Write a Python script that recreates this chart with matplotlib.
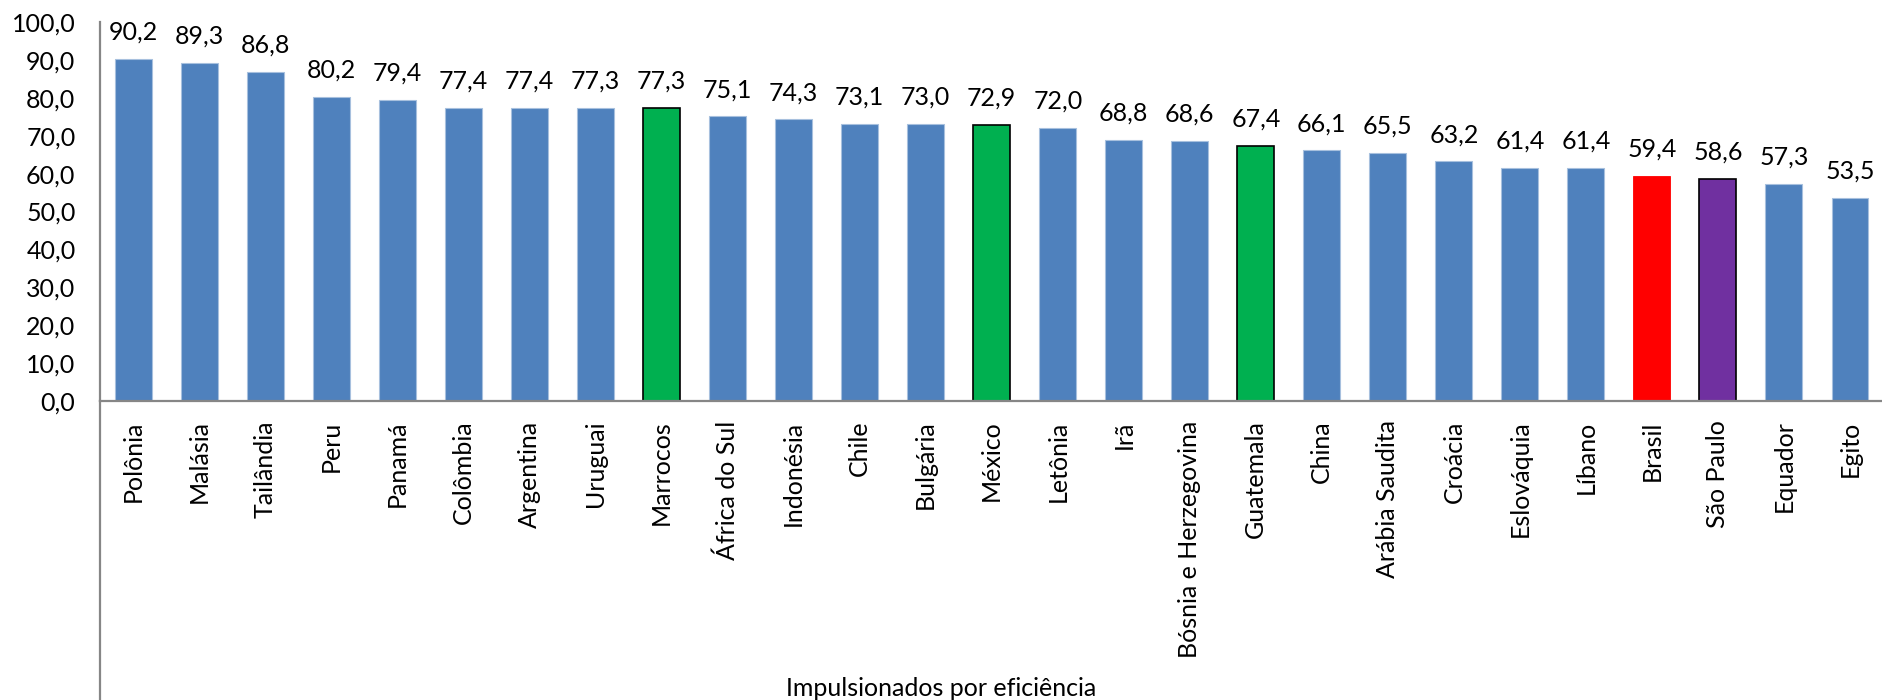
import matplotlib
matplotlib.use("Agg")
import matplotlib.pyplot as plt
from matplotlib.lines import Line2D

categories = ["Polônia", "Malásia", "Tailândia", "Peru", "Panamá", "Colômbia", "Argentina",
              "Uruguai", "Marrocos", "África do Sul", "Indonésia", "Chile", "Bulgária", "México",
              "Letônia", "Irã", "Bósnia e Herzegovina", "Guatemala", "China", "Arábia Saudita",
              "Croácia", "Eslováquia", "Líbano", "Brasil", "São Paulo", "Equador", "Egito"]
values = [90.2, 89.3, 86.8, 80.2, 79.4, 77.4, 77.4, 77.3, 77.3, 75.1, 74.3, 73.1, 73.0, 72.9,
          72.0, 68.8, 68.6, 67.4, 66.1, 65.5, 63.2, 61.4, 61.4, 59.4, 58.6, 57.3, 53.5]
highlight_green = ["Marrocos", "México", "Guatemala"]
highlight_red = ["Brasil"]
highlight_purple = ["São Paulo"]
yticks = [0, 10, 20, 30, 40, 50, 60, 70, 80, 90, 100]
xlabel = "Impulsionados por eficiência"

plt.rcParams['font.family'] = ['Lato', 'DejaVu Sans']
FS = 18

W, H = 1883, 700
fig = plt.figure(figsize=(W / 100, H / 100), dpi=100)
left = 100.5 / W
bottom = (H - 401) / H
top = (H - 22) / H
ax = fig.add_axes([left, bottom, 1 - left, top - bottom])

x = list(range(len(categories)))
faces, edges, lws = [], [], []
for c in categories:
    if c in highlight_green:
        faces.append("#00B050"); edges.append("black"); lws.append(1.2)
    elif c in highlight_red:
        faces.append("#FF0000"); edges.append("#FF0000"); lws.append(0.6)
    elif c in highlight_purple:
        faces.append("#7030A0"); edges.append("black"); lws.append(1.2)
    else:
        faces.append("#4F81BD"); edges.append("#A7C0DE"); lws.append(0.8)

bars = ax.bar(x, values, width=0.56, color=faces, edgecolor=edges, linewidth=lws, zorder=2)
for xi, v in zip(x, values):
    ax.annotate(f"{v:.1f}".replace(".", ","), (xi, v), xytext=(0, 11), textcoords="offset points",
                ha="center", va="bottom", fontsize=FS, color="black")

ax.set_xlim(-0.5, len(categories) - 0.5)
ax.set_ylim(0, 100)
ax.set_yticks(yticks)
ax.set_yticklabels([f"{t:.1f}".replace(".", ",") for t in yticks], fontsize=FS)
ax.set_xticks(x)
ax.set_xticklabels(categories, rotation=90, fontsize=FS, va="top", ha="center")
ax.tick_params(axis="y", length=0, pad=18)
ax.tick_params(axis="x", length=0, pad=14)

for s in ["top", "right"]:
    ax.spines[s].set_visible(False)
for s in ["left", "bottom"]:
    ax.spines[s].set_color("#868686")
    ax.spines[s].set_linewidth(1.6)

# category axis line continues to the bottom of the figure
fig.add_artist(Line2D([left, left], [0, bottom], transform=fig.transFigure,
                      color="#868686", linewidth=1.6))

fig.text(0.5, (H - 688) / H, xlabel, ha="center", va="center", fontsize=FS)

fig.savefig("out.png", dpi=100)
